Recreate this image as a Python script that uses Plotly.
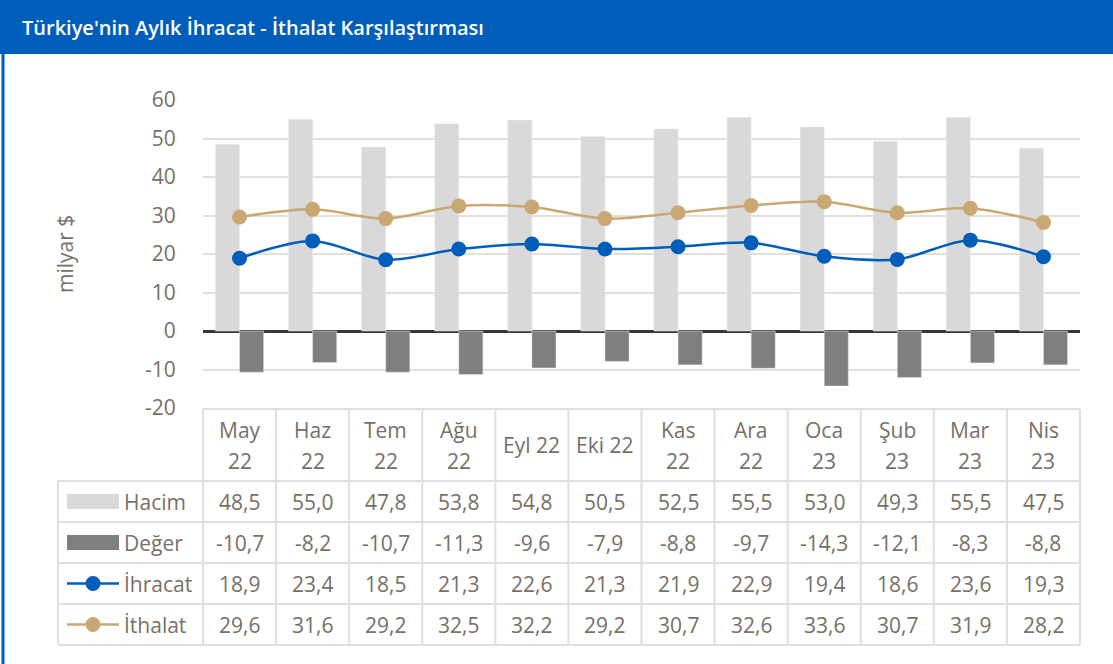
import plotly.graph_objects as go

# ---------------- data ----------------
categories = ["May 22", "Haz 22", "Tem 22", "Ağu 22", "Eyl 22", "Eki 22",
              "Kas 22", "Ara 22", "Oca 23", "Şub 23", "Mar 23", "Nis 23"]
single_line_headers = ["Eyl 22", "Eki 22"]
hacim = [48.5, 55.0, 47.8, 53.8, 54.8, 50.5, 52.5, 55.5, 53.0, 49.3, 55.5, 47.5]
deger = [-10.7, -8.2, -10.7, -11.3, -9.6, -7.9, -8.8, -9.7, -14.3, -12.1, -8.3, -8.8]
ihracat = [18.9, 23.4, 18.5, 21.3, 22.6, 21.3, 21.9, 22.9, 19.4, 18.6, 23.6, 19.3]
ithalat = [29.6, 31.6, 29.2, 32.5, 32.2, 29.2, 30.7, 32.6, 33.6, 30.7, 31.9, 28.2]
series_names = ["Hacim", "Değer", "İhracat", "İthalat"]
y_tick_values = [-20, -10, 0, 10, 20, 30, 40, 50, 60]
y_tick_labels = ["-20", "-10", "0", "10", "20", "30", "40", "50", "60"]
title_text = "Türkiye'nin Aylık İhracat - İthalat Karşılaştırması"
y_title = "milyar $"

# ---------------- style ----------------
W, H = 1113, 664
L, R, T, B = 203, 1080, 100, 408
BLUE = "#005db9"
TAN = "#c9a874"
LIGHT = "#d9d9d9"
DARK = "#7f7f7f"
TXT = "#786f66"
GRID = "#e3dfda"
TBL = "#e2dfdb"
FONT = "Open Sans"
FS = 21


def px(x):
    return (x - L) / (R - L)


def py(y):
    return (B - y) / (B - T)


fig = go.Figure()
fig.add_trace(go.Bar(x=categories, y=hacim, name=series_names[0], marker_color=LIGHT))
fig.add_trace(go.Bar(x=categories, y=deger, name=series_names[1], marker_color=DARK))
fig.add_trace(go.Scatter(x=categories, y=ihracat, name=series_names[2], mode="lines+markers",
                         line=dict(color=BLUE, width=2.5, shape="spline", smoothing=0.9),
                         marker=dict(size=15, color=BLUE)))
fig.add_trace(go.Scatter(x=categories, y=ithalat, name=series_names[3], mode="lines+markers",
                         line=dict(color=TAN, width=2.5, shape="spline", smoothing=0.9),
                         marker=dict(size=15, color=TAN)))

shapes = []
annotations = []

# title bar and frame
shapes.append(dict(type="rect", xref="paper", yref="paper", x0=px(0), x1=px(W), y0=py(54), y1=py(0),
                   fillcolor=BLUE, line=dict(width=0), layer="below"))
shapes.append(dict(type="line", xref="paper", yref="paper", x0=px(3), x1=px(3), y0=py(54), y1=py(H),
                   line=dict(color=BLUE, width=3)))
annotations.append(dict(text=title_text, xref="paper", yref="paper", x=px(20), y=py(28),
                        xanchor="left", yanchor="middle", showarrow=False,
                        font=dict(family=FONT, size=20, color="white", weight=600)))

# y-axis title
annotations.append(dict(text=y_title, xref="paper", yref="paper", x=px(65), y=0.5, textangle=-90,
                        xanchor="center", yanchor="middle", showarrow=False,
                        font=dict(family=FONT, size=FS, color=TXT)))

# table grid
row_lines = [481, 522, 563, 604, 645]
header_top = 409
shapes.append(dict(type="line", xref="paper", yref="paper", x0=px(L), x1=px(R), y0=py(header_top), y1=py(header_top),
                   line=dict(color=TBL, width=2)))
for yl in row_lines:
    shapes.append(dict(type="line", xref="paper", yref="paper", x0=px(58), x1=px(R), y0=py(yl), y1=py(yl),
                       line=dict(color=TBL, width=2)))
for xp in (L, R):
    shapes.append(dict(type="line", xref="paper", yref="paper", x0=px(xp), x1=px(xp),
                       y0=py(header_top), y1=py(row_lines[-1]), line=dict(color=TBL, width=2)))
shapes.append(dict(type="line", xref="paper", yref="paper", x0=px(58), x1=px(58),
                   y0=py(row_lines[0]), y1=py(row_lines[-1]), line=dict(color=TBL, width=2)))
for i in range(len(categories) - 1):
    shapes.append(dict(type="line", xref="x", yref="paper", x0=i + 0.5, x1=i + 0.5,
                       y0=py(header_top), y1=py(row_lines[-1]), line=dict(color=TBL, width=2)))

# header
for i, c in enumerate(categories):
    if c in single_line_headers:
        annotations.append(dict(text=c, xref="x", yref="paper", x=i, y=py(445), showarrow=False,
                                xanchor="center", yanchor="middle",
                                font=dict(family=FONT, size=FS, color=TXT)))
    else:
        m, yr = c.split(" ")
        for txt, yy in ((m, 430), (yr, 461)):
            annotations.append(dict(text=txt, xref="x", yref="paper", x=i, y=py(yy), showarrow=False,
                                    xanchor="center", yanchor="middle",
                                    font=dict(family=FONT, size=FS, color=TXT)))

# body
rows = [hacim, deger, ihracat, ithalat]
for r, vals in enumerate(rows):
    yc = (row_lines[r] + row_lines[r + 1]) / 2
    for i, v in enumerate(vals):
        annotations.append(dict(text=f"{v:.1f}".replace(".", ","), xref="x", yref="paper", x=i, y=py(yc),
                                showarrow=False, xanchor="center", yanchor="middle",
                                font=dict(family=FONT, size=FS, color=TXT)))
    annotations.append(dict(text=series_names[r], xref="paper", yref="paper", x=px(122), y=py(yc),
                            showarrow=False, xanchor="left", yanchor="middle",
                            font=dict(family=FONT, size=FS, color=TXT)))

# legend keys
for r, col in enumerate([LIGHT, DARK]):
    yc = (row_lines[r] + row_lines[r + 1]) / 2
    shapes.append(dict(type="rect", xref="paper", yref="paper", x0=px(67), x1=px(119),
                       y0=py(yc + 7.5), y1=py(yc - 7.5), fillcolor=col, line=dict(width=0)))
for r, col in ((2, BLUE), (3, TAN)):
    yc = (row_lines[r] + row_lines[r + 1]) / 2
    shapes.append(dict(type="line", xref="paper", yref="paper", x0=px(67), x1=px(119),
                       y0=py(yc), y1=py(yc), line=dict(color=col, width=2.5)))
    shapes.append(dict(type="circle", xref="paper", yref="paper", x0=px(85.5), x1=px(100.5),
                       y0=py(yc + 7.5), y1=py(yc - 7.5), fillcolor=col, line=dict(width=0)))

fig.update_layout(
    width=W, height=H,
    margin=dict(l=L, r=W - R, t=T, b=H - B),
    paper_bgcolor="white", plot_bgcolor="white",
    barmode="group", bargap=0.34, bargroupgap=0,
    showlegend=False,
    shapes=shapes, annotations=annotations,
    xaxis=dict(showticklabels=False, showgrid=False, zeroline=False, showline=False,
               range=[-0.5, len(categories) - 0.5]),
    yaxis=dict(range=[-20, 60], tickmode="array", tickvals=y_tick_values, ticktext=y_tick_labels,
               showgrid=True, gridcolor=GRID, gridwidth=2,
               zeroline=True, zerolinecolor="#3a3633", zerolinewidth=2.5, showline=False,
               ticks="outside", ticklen=22, tickcolor="rgba(0,0,0,0)",
               tickfont=dict(family=FONT, size=FS, color=TXT)),
    font=dict(family=FONT),
)

fig.write_html("out.html", config={"displayModeBar": False},
               post_script="document.body.style.margin='0px';")
